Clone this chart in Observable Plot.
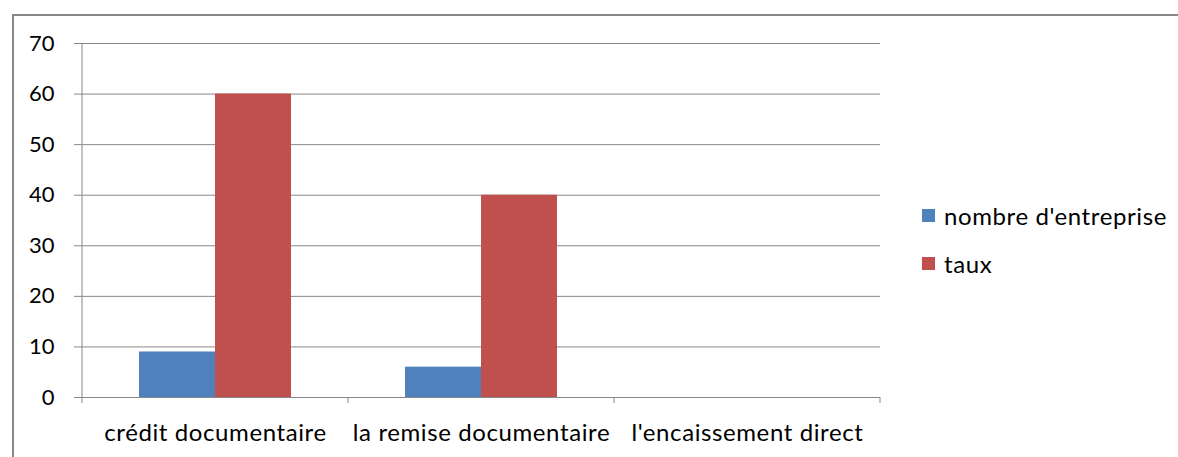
<!DOCTYPE html>
<html>
<head>
<meta charset="utf-8">
<script src="https://cdn.jsdelivr.net/npm/d3@7"></script>
<script src="https://cdn.jsdelivr.net/npm/@observablehq/plot@0.6"></script>
<style>
  html, body { margin: 0; padding: 0; background: #fff; overflow: hidden; }
  #wrap { position: relative; width: 1178px; height: 457px; overflow: hidden; font-family: Lato, "Open Sans", sans-serif; }
  #border { position: absolute; left: 12px; top: 14px; width: 1300px; height: 700px; border: 2px solid #878787; box-sizing: border-box; }
  #chart { position: absolute; left: 0; top: 0; }
  #legend { position: absolute; left: 922px; top: 191px; font-size: 24px; letter-spacing: 0.6px; color: #000; }
  .row { display: flex; align-items: center; height: 48px; }
  .sw { width: 13px; height: 13px; margin-right: 9px; }
</style>
</head>
<body>
<div id="wrap">
  <div id="border"></div>
  <div id="chart"></div>
  <div id="legend"></div>
</div>
<script>
const categories = ["crédit documentaire", "la remise documentaire", "l'encaissement direct"];
const seriesNames = ["nombre d'entreprise", "taux"];
const nombreEntreprise = [9, 6, 0];
const taux = [60, 40, 0];
const yTicks = [0, 10, 20, 30, 40, 50, 60, 70];
const colors = ["#4f81bd", "#c0504d"];

const seriesValues = [nombreEntreprise, taux];
const rows = [];
categories.forEach((c, i) => {
  seriesNames.forEach((s, j) => rows.push({category: c, series: s, value: seriesValues[j][i]}));
});

const gridColor = "#878787";

const plot = Plot.plot({
  width: 1178,
  height: 457,
  marginLeft: 81,
  marginRight: 298,
  marginTop: 43,
  marginBottom: 60,
  style: {fontFamily: "Lato, 'Open Sans', sans-serif", fontSize: "20px", color: "#000", background: "transparent"},
  fx: {domain: categories, padding: 0, label: null},
  x: {domain: seriesNames, paddingInner: 0, paddingOuter: 0.75, axis: null},
  y: {domain: [0, 70], label: null},
  color: {domain: seriesNames, range: colors},
  marks: [
    Plot.ruleY(yTicks, {y: d => d, stroke: gridColor, strokeWidth: 1}),
    Plot.barY(rows, {fx: "category", x: "series", y: "value", fill: "series", inset: 0}),
    Plot.axisY({ticks: yTicks, tickSize: 8, tickPadding: 20, stroke: gridColor, fill: "#000", fontSize: 22, label: null, tickFormat: d => String(d)}),
    Plot.axisFx({anchor: "bottom", tickSize: 0, tickPadding: 26, fill: "#000", fontSize: 24, label: null})
  ]
});

document.getElementById("chart").appendChild(plot);

// axis line and category boundary ticks, from the plot's own scales
const fx = plot.scale("fx");
const y = plot.scale("y");
const svg = d3.select(plot);
const x0 = fx.apply(categories[0]);
const bw = fx.bandwidth;
svg.append("line")
  .attr("x1", x0).attr("x2", x0)
  .attr("y1", y.apply(0)).attr("y2", y.apply(70))
  .attr("stroke", gridColor);
const bounds = categories.map(c => fx.apply(c)).concat([fx.apply(categories[categories.length - 1]) + bw]);
svg.selectAll("line.bt").data(bounds).join("line")
  .attr("class", "bt")
  .attr("x1", d => d).attr("x2", d => d)
  .attr("y1", y.apply(0)).attr("y2", y.apply(0) + 6)
  .attr("stroke", gridColor);
svg.selectAll("g[aria-label='fx-axis tick label'] text").style("letter-spacing", "0.6px");

const legend = d3.select("#legend");
seriesNames.forEach((s, i) => {
  const r = legend.append("div").attr("class", "row");
  r.append("div").attr("class", "sw").style("background", colors[i]);
  r.append("span").text(s);
});
</script>
</body>
</html>
